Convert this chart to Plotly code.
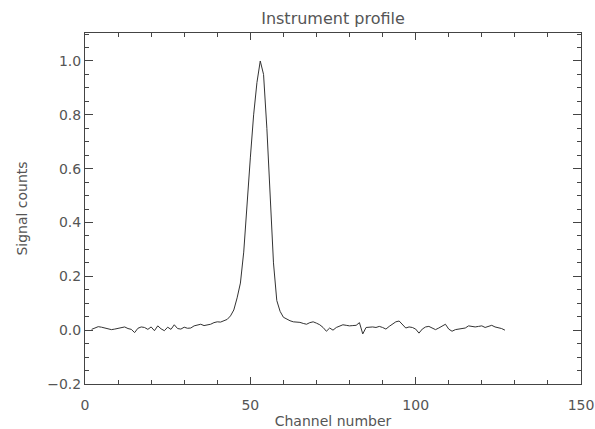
import plotly.graph_objects as go

channels = list(range(2, 128))
signal = [
    0.003, 0.008, 0.013, 0.011, 0.008, 0.005, 0.002, 0.004, 0.006, 0.010,   # 2-11
    0.012, 0.006, 0.003, -0.009, 0.007, 0.012, 0.010, 0.003, 0.012, -0.002, # 12-21
    0.016, 0.005, -0.002, 0.011, 0.003, 0.020, 0.006, 0.004, 0.011, 0.007,  # 22-31
    0.008, 0.016, 0.018, 0.022, 0.017, 0.019, 0.022, 0.028, 0.031, 0.030,   # 32-41
    0.034, 0.040, 0.053, 0.075, 0.12, 0.175, 0.29, 0.48, 0.64, 0.80,        # 42-51
    0.92, 1.00, 0.95, 0.75, 0.50, 0.25, 0.11, 0.070, 0.048, 0.040,          # 52-61
    0.035, 0.031, 0.030, 0.029, 0.025, 0.022, 0.028, 0.031, 0.026, 0.020,   # 62-71
    0.010, -0.004, 0.008, 0.000, 0.010, 0.016, 0.020, 0.018, 0.016, 0.017,  # 72-81
    0.018, 0.028, -0.014, 0.010, 0.012, 0.012, 0.010, 0.014, 0.010, 0.004,  # 82-91
    0.014, 0.022, 0.031, 0.034, 0.020, 0.008, 0.012, 0.010, 0.004, -0.011,  # 92-101
    0.004, 0.012, 0.014, 0.007, 0.002, 0.008, 0.016, 0.022, 0.004, -0.004,  # 102-111
    0.002, 0.004, 0.004, 0.008, 0.016, 0.014, 0.012, 0.014, 0.016, 0.010,  # 112-121
    0.014, 0.018, 0.012, 0.010, 0.006, 0.000,                               # 122-127
]

x_ticks = [0, 50, 100, 150]
x_tick_labels = ["0", "50", "100", "150"]
y_ticks = [-0.2, 0.0, 0.2, 0.4, 0.6, 0.8, 1.0]
y_tick_labels = ["\u22120.2", "0.0", "0.2", "0.4", "0.6", "0.8", "1.0"]

FONT = "DejaVu Sans"
TXT = "#555555"
AX = "#444444"

fig = go.Figure()
fig.add_trace(go.Scatter(
    x=channels, y=signal, mode="lines",
    line=dict(color="#333333", width=1),
    showlegend=False, hoverinfo="skip",
))

common = dict(
    showgrid=False, zeroline=False, showline=True, linecolor=AX, linewidth=1,
    mirror="allticks", ticks="inside", tickcolor=AX, tickwidth=1, automargin=False,
    tickfont=dict(family=FONT, size=14, color=TXT),
)

fig.update_xaxes(
    range=[0, 150], tickmode="array", tickvals=x_ticks, ticktext=x_tick_labels,
    ticklen=7, ticklabelstandoff=8,
    minor=dict(dtick=10, ticks="inside", ticklen=4, tickcolor=AX, showgrid=False),
    title=dict(text="Channel number", font=dict(family=FONT, size=14, color=TXT), standoff=12),
    **common,
)
fig.update_yaxes(
    range=[-0.2, 1.104], tickmode="array", tickvals=y_ticks, ticktext=y_tick_labels,
    ticklen=8,
    minor=dict(dtick=0.05, tick0=0, ticks="inside", ticklen=4, tickcolor=AX, showgrid=False),
    title=dict(text="Signal counts", font=dict(family=FONT, size=14, color=TXT), standoff=16),
    **common,
)

fig.update_layout(
    width=595, height=429,
    margin=dict(l=85, r=14, t=33, b=45),
    paper_bgcolor="white", plot_bgcolor="white",
    title=dict(text="Instrument profile", x=(85 + 581) / 2 / 595, xanchor="center",
               y=1 - 18 / 429, yanchor="middle", yref="container",
               font=dict(family=FONT, size=16, color=TXT)),
)

fig.write_html("out.html")
